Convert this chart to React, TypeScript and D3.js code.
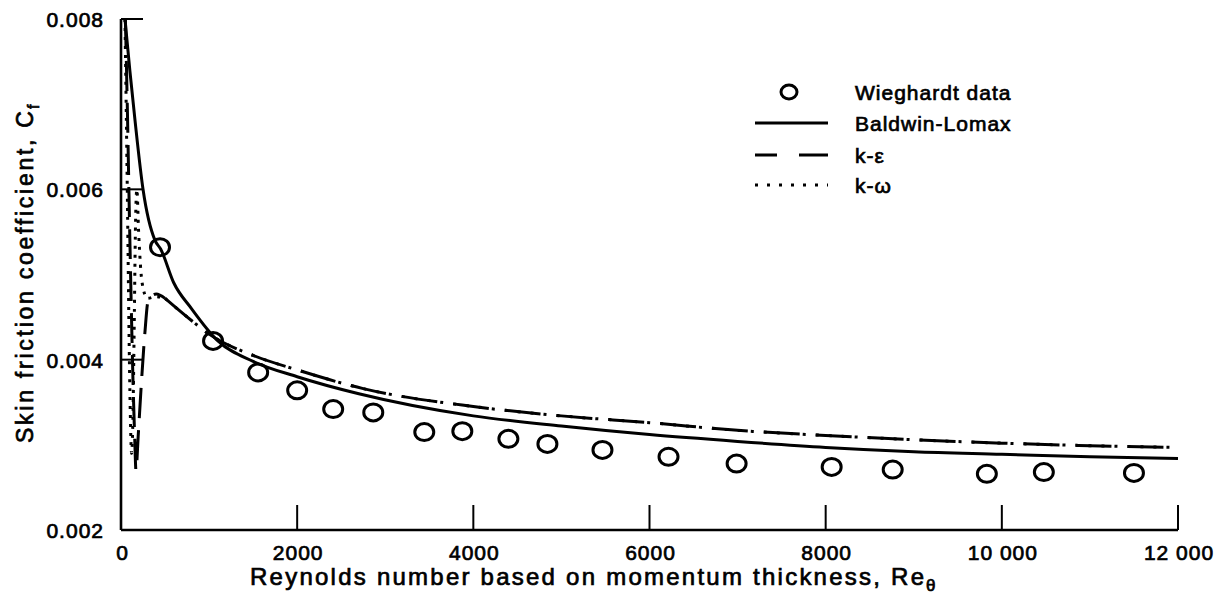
import React from "react";
import * as d3 from "d3";

// ---- data ----
const wieghardtRe = [443, 1045, 1557, 2000, 2409, 2864, 3443, 3875, 4398, 4841, 5466, 6216, 6989, 8068, 8761, 9830, 10477, 11500];
const wieghardtCf = [0.00532, 0.00422, 0.00385, 0.00364, 0.00342, 0.00338, 0.00315, 0.00316, 0.00307, 0.00301, 0.00294, 0.00286, 0.00278, 0.00274, 0.00271, 0.00266, 0.00268, 0.00267];

const baldwinRe = [45, 100, 160, 250, 386, 450, 600, 800, 1100, 1500, 2000, 2700, 4000, 5000, 6000, 7000, 8000, 9000, 10000, 11000, 12000];
const baldwinCf = [0.008, 0.0074, 0.0068, 0.006, 0.0054, 0.0053, 0.0049, 0.0046, 0.00422, 0.00398, 0.0038, 0.0036, 0.00334, 0.00322, 0.00312, 0.00304, 0.00297, 0.00292, 0.00289, 0.00286, 0.00284];

const kEpsRe = [50, 75, 95, 115, 135, 155, 170, 195, 230, 270, 310, 400, 500, 800, 1000, 1500, 2000, 2750, 4000, 5000, 6000, 7000, 8000, 9000, 10000, 11000, 12000];
const kEpsCf = [0.008, 0.0068, 0.0057, 0.0047, 0.0038, 0.0031, 0.0027, 0.0031, 0.0037, 0.0043, 0.0047, 0.00477, 0.00472, 0.00446, 0.0043, 0.00405, 0.00388, 0.00366, 0.00345, 0.00334, 0.00326, 0.00317, 0.00311, 0.00306, 0.00302, 0.00299, 0.00297];

const kOmegaRe = [45, 60, 75, 90, 105, 120, 135, 150, 165, 180, 200, 240, 300, 400, 500, 800, 1000, 1500, 2000, 2750, 4000, 5000, 6000, 7000, 8000, 9000, 10000, 11000, 12000];
const kOmegaCf = [0.008, 0.0069, 0.0057, 0.0044, 0.0034, 0.0029, 0.0033, 0.0044, 0.0056, 0.006, 0.0055, 0.0049, 0.00472, 0.00474, 0.00472, 0.00446, 0.0043, 0.00405, 0.00388, 0.00366, 0.00345, 0.00334, 0.00326, 0.00317, 0.00311, 0.00306, 0.00302, 0.00299, 0.00297];

const xTicks = [2000, 4000, 6000, 8000, 10000, 12000];
const xTickLabels = ["2000", "4000", "6000", "8000", "10 000", "12 000"];
const yTicks = [0.002, 0.004, 0.006, 0.008];
const yTickLabels = ["0.002", "0.004", "0.006", "0.008"];

const legendLabels = ["Wieghardt data", "Baldwin-Lomax", "k-ε", "k-ω"];

const SPLIT_RE = 500;

export default function App() {
  const W = 1218, H = 597;
  const x = d3.scaleLinear().domain([0, 12000]).range([121, 1178]);
  const y = d3.scaleLinear().domain([0.002, 0.008]).range([530, 19]);
  const line = d3
    .line<[number, number]>()
    .x((d) => x(d[0]))
    .y((d) => y(d[1]))
    .curve(d3.curveMonotoneX);

  const zip = (a: number[], b: number[]) => a.map((v, i) => [v, b[i]] as [number, number]);
  const bl = zip(baldwinRe, baldwinCf);
  const ke = zip(kEpsRe, kEpsCf);
  const kw = zip(kOmegaRe, kOmegaCf);
  const keA = ke.filter((d) => d[0] <= SPLIT_RE);
  const keB = ke.filter((d) => d[0] >= SPLIT_RE);
  const kwA = kw.filter((d) => d[0] <= SPLIT_RE);
  const kwB = kw.filter((d) => d[0] >= SPLIT_RE);

  const font = "'Liberation Sans', Arial, Helvetica, sans-serif";
  const textStyle = { fontFamily: font, fill: "#000", stroke: "#000", strokeWidth: 0.7 } as React.CSSProperties;

  const legY = [92, 123, 155, 185];

  return (
    <svg width={W} height={H} style={{ position: "absolute", left: 0, top: 0, background: "#fff" }}>
      <rect x={0} y={0} width={W} height={H} fill="#fff" />
      {/* axes */}
      <line x1={x(0)} x2={x(12000)} y1={y(0.002)} y2={y(0.002)} stroke="#000" strokeWidth={2.6} />
      <line x1={x(0)} x2={x(0)} y1={y(0.002)} y2={y(0.008)} stroke="#000" strokeWidth={2.6} />
      {xTicks.map((t) => (
        <line key={"xt" + t} x1={x(t)} x2={x(t)} y1={y(0.002)} y2={y(0.002) - 25} stroke="#000" strokeWidth={2} />
      ))}
      {yTicks.slice(1).map((t) => (
        <line key={"yt" + t} x1={x(0)} x2={x(0) + 22} y1={y(t)} y2={y(t)} stroke="#000" strokeWidth={2} />
      ))}
      {xTickLabels.map((l, i) => (
        <text key={"xl" + l} x={x(xTicks[i]) + 1} y={560} textAnchor="middle" fontSize={21} letterSpacing={1} style={textStyle}>
          {l}
        </text>
      ))}
      <text x={x(0) + 1} y={560} textAnchor="middle" fontSize={21} style={textStyle}>0</text>
      {yTickLabels.map((l, i) => (
        <text key={"yl" + l} x={104} y={y(yTicks[i]) + 8} textAnchor="end" fontSize={21} letterSpacing={1} style={textStyle}>
          {l}
        </text>
      ))}
      {/* axis titles */}
      <text x={250} y={585} fontSize={24} textLength={674} lengthAdjust="spacing" style={textStyle}>
        Reynolds number based on momentum thickness, Re
      </text>
      <text x={926} y={591} fontSize={17} style={textStyle}>θ</text>
      <g transform="translate(33,443) rotate(-90)">
        <text x={0} y={0} fontSize={23} textLength={332} lengthAdjust="spacing" style={textStyle}>
          Skin friction coefficient, C
        </text>
        <text x={334} y={6} fontSize={16} style={textStyle}>f</text>
      </g>

      {/* curves */}
      <path d={line(bl) || ""} fill="none" stroke="#000" strokeWidth={3} />
      <path d={line(keA) || ""} fill="none" stroke="#000" strokeWidth={3} strokeDasharray="30,12" />
      <path d={line(kwA) || ""} fill="none" stroke="#000" strokeWidth={3} strokeDasharray="3,6" />
      <path d={line(keB) || ""} fill="none" stroke="#000" strokeWidth={3} strokeDasharray="36,16" />
      <path d={line(kwB) || ""} fill="none" stroke="#000" strokeWidth={3} strokeDasharray="3,10" />

      {/* data */}
      {wieghardtRe.map((r, i) => (
        <ellipse key={"c" + i} cx={x(r)} cy={y(wieghardtCf[i])} rx={9.5} ry={8.5} fill="none" stroke="#000" strokeWidth={3} />
      ))}

      {/* legend */}
      <ellipse cx={789} cy={legY[0]} rx={8} ry={7} fill="none" stroke="#000" strokeWidth={3} />
      <line x1={755} x2={828} y1={legY[1]} y2={legY[1]} stroke="#000" strokeWidth={3} />
      <line x1={755} x2={828} y1={legY[2]} y2={legY[2]} stroke="#000" strokeWidth={3} strokeDasharray="22,22,29" />
      <line x1={755} x2={828} y1={legY[3]} y2={legY[3]} stroke="#000" strokeWidth={3} strokeDasharray="3,9" />
      {legendLabels.map((l, i) => (
        <text key={"lg" + i} x={855} y={legY[i] + 8} fontSize={21} letterSpacing={1} style={textStyle}>
          {l}
        </text>
      ))}
    </svg>
  );
}
